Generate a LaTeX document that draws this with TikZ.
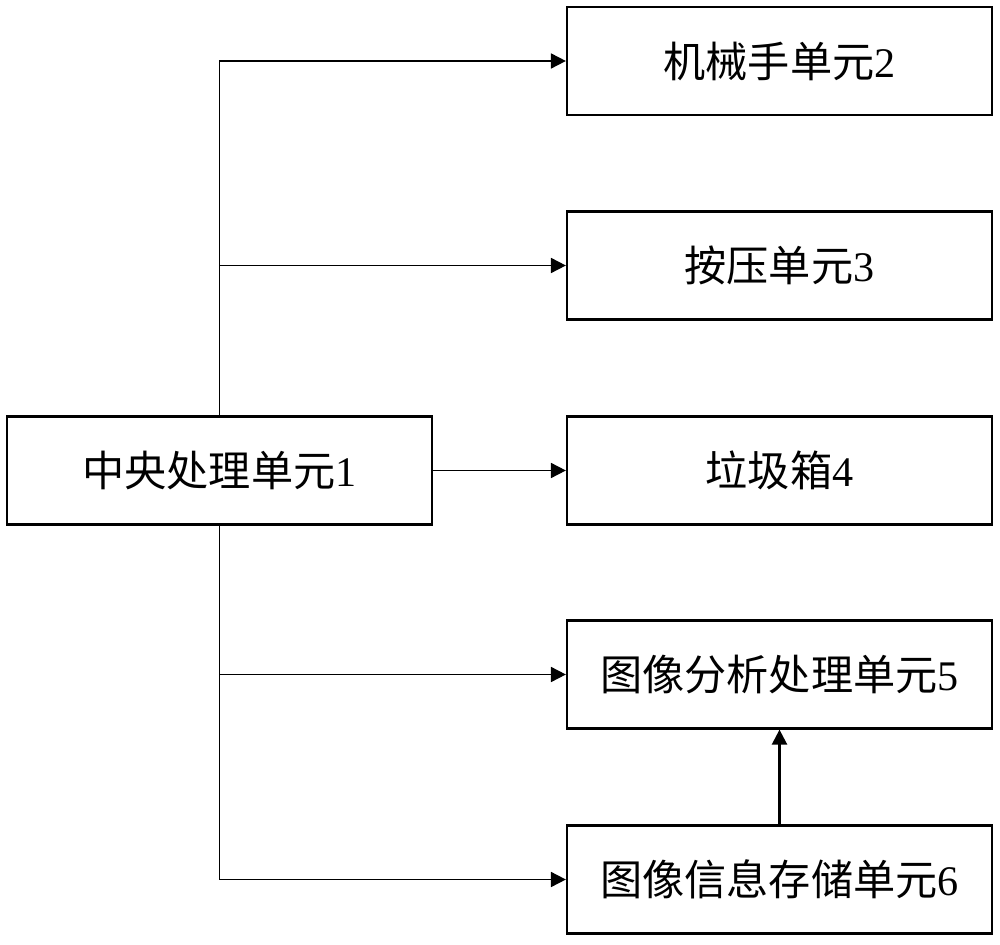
\documentclass[tikz,border=0pt]{standalone}
\usepackage{fontspec}
\setmainfont{Liberation Serif}
\newfontfamily\cjk{Noto Sans CJK SC}
\usetikzlibrary{arrows.meta}
\begin{document}
\begin{tikzpicture}[x=0.02cm,y=-0.02cm,
  unitbox/.style={draw,line width=1.3pt,minimum width=8.5cm,minimum height=2.16cm,inner sep=0pt,font=\fontsize{24}{28}\selectfont},
  conn/.style={line width=1pt},
  arr/.style={conn,-{Triangle[length=8.5pt,width=8.5pt]}}]
\useasboundingbox (0,0) rectangle (1000,945);
\node[unitbox] (c) at (219.5,470.5) {{\cjk 中央处理单元}1};
\node[unitbox] (b2) at (779.5,61) {{\cjk 机械手单元}2};
\node[unitbox] (b3) at (779.5,265.5) {{\cjk 按压单元}3};
\node[unitbox] (b4) at (779.5,470.5) {{\cjk 垃圾箱}4};
\node[unitbox] (b5) at (779.5,674.5) {{\cjk 图像分析处理单元}5};
\node[unitbox] (b6) at (779.5,879.5) {{\cjk 图像信息存储单元}6};
\draw[arr] (c.north) |- (b2.west);
\draw[arr] (c.north |- b3.west) -- (b3.west);
\draw[arr] (c.east) -- (b4.west);
\draw[arr] (c.south) |- (b6.west);
\draw[arr] (c.south |- b5.west) -- (b5.west);
\draw[arr,line width=1.4pt] (b6.north) -- (b5.south);
\end{tikzpicture}
\end{document}
